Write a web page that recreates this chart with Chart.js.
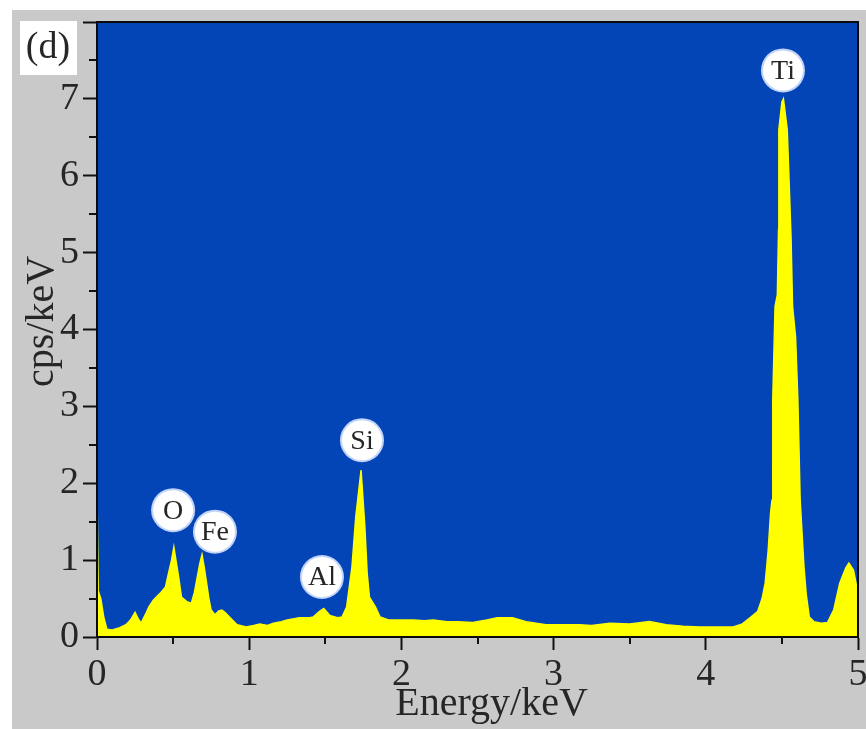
<!DOCTYPE html>
<html><head><meta charset="utf-8">
<script src="https://cdn.jsdelivr.net/npm/chart.js@4.4.0/dist/chart.umd.min.js"></script>
<style>html,body{margin:0;padding:0;background:#fff;}#wrap{width:866px;height:729px;}</style>
</head><body><div id="wrap"><canvas id="c" width="866" height="729"></canvas></div>
<script>
// EDS spectrum
const energy = [0.000,0.008,0.025,0.045,0.065,0.10,0.15,0.19,0.22,0.25,0.27,0.29,0.32,0.34,0.37,0.39,0.42,0.45,0.47,0.49,0.505,0.52,0.535,0.555,0.59,0.62,0.64,0.655,0.675,0.69,0.705,0.72,0.735,0.75,0.775,0.80,0.82,0.84,0.875,0.92,0.98,1.03,1.07,1.12,1.16,1.21,1.25,1.33,1.40,1.42,1.46,1.49,1.53,1.58,1.61,1.64,1.675,1.70,1.735,1.76,1.775,1.79,1.83,1.86,1.92,2.00,2.08,2.15,2.21,2.30,2.37,2.47,2.56,2.63,2.73,2.82,2.95,3.05,3.17,3.25,3.37,3.50,3.63,3.74,3.85,3.96,4.08,4.18,4.24,4.29,4.34,4.37,4.39,4.40,4.41,4.425,4.435,4.44,4.455,4.47,4.478,4.48,4.50,4.51,4.535,4.547,4.56,4.57,4.59,4.605,4.62,4.645,4.66,4.68,4.71,4.76,4.80,4.84,4.88,4.92,4.94,4.97,5.00];
const counts = [1.90,0.60,0.50,0.25,0.10,0.09,0.12,0.16,0.22,0.32,0.24,0.18,0.30,0.39,0.48,0.52,0.58,0.65,0.83,1.00,1.17,0.98,0.80,0.52,0.46,0.44,0.58,0.74,0.95,1.07,0.90,0.70,0.50,0.35,0.29,0.34,0.35,0.32,0.25,0.16,0.13,0.15,0.17,0.15,0.18,0.20,0.22,0.25,0.25,0.26,0.33,0.37,0.28,0.25,0.26,0.39,0.91,1.56,2.17,1.43,0.83,0.52,0.39,0.26,0.22,0.22,0.22,0.21,0.22,0.20,0.20,0.19,0.22,0.25,0.25,0.20,0.16,0.16,0.16,0.15,0.18,0.17,0.20,0.16,0.14,0.13,0.13,0.13,0.17,0.25,0.33,0.50,0.70,0.91,1.13,1.60,1.78,3.08,4.30,4.45,5.30,6.60,6.96,7.00,6.60,5.94,5.20,4.30,3.90,3.08,1.78,0.91,0.55,0.26,0.20,0.18,0.19,0.35,0.70,0.90,0.96,0.87,0.57];

const xTicks = [0,1,2,3,4,5];
const yTicks = [0,1,2,3,4,5,6,7,8];
const yTickLabels = ['0','1','2','3','4','5','6','7',''];
const xMinor = [0.5,1.5,2.5,3.5,4.5];
const yMinor = [0.5,1.5,2.5,3.5,4.5,5.5,6.5,7.5];

const peakNames = ['O','Fe','Al','Si','Ti'];
const peakLabelX = [0.50,0.775,1.478,1.741,4.507];
const peakLabelY = [1.65,1.37,0.78,2.56,7.37];

const panelLabel = '(d)';
const xTitle = 'Energy/keV';
const yTitle = 'cps/keV';

const SERIF = '"Liberation Serif","Times New Roman",serif';
const TEXT = '#262626';

const decor = {
  id: 'decor',
  beforeDraw(chart) {
    const {ctx, chartArea: a} = chart;
    ctx.save();
    ctx.fillStyle = '#ffffff';
    ctx.fillRect(0, 0, chart.width, chart.height);
    ctx.fillStyle = '#c9c9c9';
    ctx.fillRect(12, 10, chart.width - 12, chart.height - 10);
    ctx.fillStyle = '#0344b6';
    ctx.fillRect(a.left, a.top, a.right - a.left, a.bottom - a.top);
    ctx.restore();
  },
  afterDatasetsDraw(chart) {
    const {ctx, chartArea: a, scales} = chart;
    ctx.save();
    // frame
    ctx.strokeStyle = '#0a0a0a';
    ctx.lineWidth = 2;
    ctx.strokeRect(a.left, a.top, a.right - a.left, a.bottom - a.top);
    // minor ticks
    ctx.lineWidth = 2;
    ctx.strokeStyle = '#111';
    ctx.beginPath();
    yMinor.forEach(v => {
      const y = Math.round(scales.y.getPixelForValue(v));
      ctx.moveTo(a.left - 8, y); ctx.lineTo(a.left, y);
    });
    xMinor.forEach(v => {
      const x = Math.round(scales.x.getPixelForValue(v));
      ctx.moveTo(x, a.bottom); ctx.lineTo(x, a.bottom + 7);
    });
    ctx.stroke();
    // axis titles
    ctx.fillStyle = TEXT;
    ctx.font = '40px ' + SERIF;
    ctx.textAlign = 'center';
    ctx.textBaseline = 'alphabetic';
    ctx.fillText(xTitle, (a.left + a.right) / 2 + 14, 715);
    ctx.save();
    ctx.translate(53, (a.top + a.bottom) / 2 - 8);
    ctx.rotate(-Math.PI / 2);
    ctx.fillText(yTitle, 0, 0);
    ctx.restore();
    // peak labels
    peakNames.forEach((n, i) => {
      const x = scales.x.getPixelForValue(peakLabelX[i]);
      const y = scales.y.getPixelForValue(peakLabelY[i]);
      ctx.beginPath();
      ctx.arc(x, y, 22, 0, Math.PI * 2);
      ctx.fillStyle = 'rgba(215,228,255,0.9)';
      ctx.fill();
      ctx.beginPath();
      ctx.arc(x, y, 20, 0, Math.PI * 2);
      ctx.fillStyle = '#ffffff';
      ctx.fill();
      ctx.fillStyle = TEXT;
      ctx.font = '28px ' + SERIF;
      ctx.textAlign = 'center';
      ctx.textBaseline = 'middle';
      ctx.fillText(n, x, y + 1);
    });
    // panel label
    ctx.fillStyle = '#ffffff';
    ctx.fillRect(20, 21, 57, 54);
    ctx.fillStyle = TEXT;
    ctx.font = '38px ' + SERIF;
    ctx.textAlign = 'center';
    ctx.textBaseline = 'middle';
    ctx.fillText(panelLabel, 48, 48);
    ctx.restore();
  }
};

new Chart(document.getElementById('c'), {
  type: 'line',
  data: {
    datasets: [{
      data: energy.map((e, i) => ({x: e, y: counts[i]})),
      borderColor: '#ffff00',
      backgroundColor: '#ffff00',
      borderWidth: 1.5,
      pointRadius: 0,
      tension: 0,
      fill: 'origin'
    }]
  },
  options: {
    responsive: false,
    animation: false,
    devicePixelRatio: 1,
    layout: {padding: {left: 0, top: 22, right: 8, bottom: 0}},
    plugins: {legend: {display: false}, tooltip: {enabled: false}},
    scales: {
      x: {
        type: 'linear', min: 0, max: 5,
        afterBuildTicks: s => { s.ticks = xTicks.map(v => ({value: v})); },
        afterFit: s => { s.height = 92; s.paddingLeft = 0; s.paddingRight = 0; },
        ticks: {font: {family: SERIF, size: 38}, color: TEXT, padding: 2, maxRotation: 0,
                callback: v => String(v)},
        grid: {drawOnChartArea: false, drawTicks: true, tickLength: 13, tickColor: '#111', tickWidth: 2},
        border: {display: true, color: '#000', width: 2},
        title: {display: false}
      },
      y: {
        type: 'linear', min: 0, max: 8,
        afterBuildTicks: s => { s.ticks = yTicks.map(v => ({value: v})); },
        afterFit: s => { s.width = 97; s.paddingTop = 0; s.paddingBottom = 0; },
        ticks: {font: {family: SERIF, size: 38}, color: TEXT, padding: 4,
                callback: (v, i) => yTickLabels[i]},
        grid: {drawOnChartArea: false, drawTicks: true, tickLength: 14, tickColor: '#111', tickWidth: 2},
        border: {display: true, color: '#000', width: 2},
        title: {display: false}
      }
    }
  },
  plugins: [decor]
});
</script>
</body></html>
